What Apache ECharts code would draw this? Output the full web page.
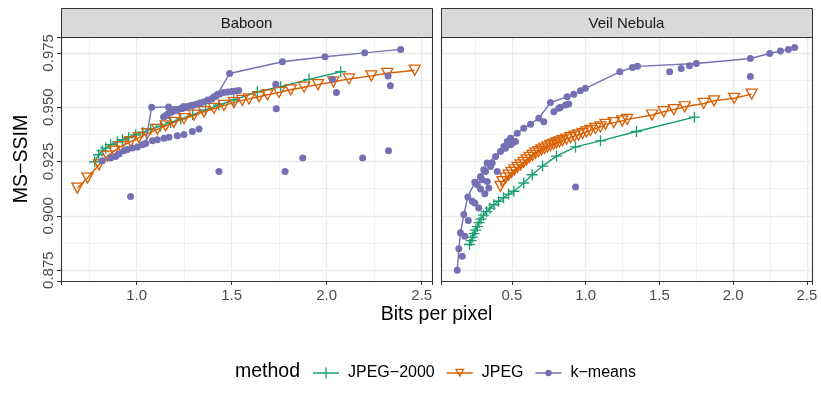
<!DOCTYPE html>
<html>
<head>
<meta charset="utf-8">
<script src="https://cdn.jsdelivr.net/npm/echarts@6/dist/echarts.min.js"></script>
<style>
html,body{margin:0;padding:0;background:#fff;}
#chart{width:821px;height:403px;}
</style>
</head>
<body>
<div id="chart"></div>
<script>
// ---------- data ----------
const panels = ['Baboon', 'Veil Nebula'];
const methods = ['JPEG−2000', 'JPEG', 'k−means'];

// Baboon
const baboonJpeg2000 = [[0.779,0.9249],[0.800,0.9281],[0.819,0.9299],[0.837,0.9312],[0.863,0.9327],[0.898,0.9340],[0.926,0.9350],[0.958,0.9360],[0.995,0.9372],[1.032,0.9385],[1.074,0.9398],[1.126,0.9413],[1.179,0.9430],[1.232,0.9446],[1.295,0.9466],[1.363,0.9488],[1.432,0.9510],[1.511,0.9533],[1.635,0.9571],[1.758,0.9594],[1.907,0.9628],[2.074,0.9663]];
const baboonJpeg = [[0.688,0.9128],[0.741,0.9174],[0.802,0.9235],[0.846,0.9275],[0.881,0.9298],[0.916,0.9318],[0.968,0.9342],[1.012,0.9360],[1.056,0.9378],[1.109,0.9398],[1.153,0.9414],[1.196,0.9430],[1.249,0.9447],[1.302,0.9463],[1.354,0.9479],[1.407,0.9494],[1.459,0.9508],[1.512,0.9521],[1.556,0.9531],[1.591,0.9538],[1.644,0.9548],[1.688,0.9557],[1.749,0.9568],[1.811,0.9580],[1.881,0.9592],[1.954,0.9604],[2.035,0.9617],[2.117,0.9630],[2.235,0.9644],[2.319,0.9656],[2.463,0.9670]];
const baboonKmeansFront = [[0.820,0.9253],[0.863,0.9266],[0.889,0.9273],[0.907,0.9284],[0.933,0.9299],[0.951,0.9305],[0.977,0.9312],[1.004,0.9317],[1.030,0.9327],[1.047,0.9333],[1.079,0.9500],[1.168,0.9501],[1.247,0.9503],[1.289,0.9508],[1.332,0.9519],[1.374,0.9533],[1.405,0.9547],[1.426,0.9560],[1.489,0.9655],[1.767,0.9709],[1.991,0.9732],[2.200,0.9750],[2.389,0.9766]];
const baboonKmeansOther = [[1.142,0.9455],[1.153,0.9462],[1.163,0.9469],[1.174,0.9474],[1.184,0.9478],[1.195,0.9482],[1.205,0.9485],[1.216,0.9489],[1.226,0.9492],[1.237,0.9494],[1.247,0.9496],[1.258,0.9499],[1.268,0.9503],[1.279,0.9506],[1.289,0.9508],[1.300,0.9510],[1.311,0.9512],[1.332,0.9518],[1.353,0.9524],[1.374,0.9531],[1.395,0.9538],[1.416,0.9550],[1.437,0.9561],[1.458,0.9567],[1.479,0.9570],[1.500,0.9572],[1.521,0.9574],[1.537,0.9577],
  [1.083,0.9345],[1.109,0.9350],[1.144,0.9357],[1.170,0.9362],[1.214,0.9369],[1.249,0.9374],[1.293,0.9388],[1.328,0.9399],
  [0.968,0.9089],[1.433,0.9204],[1.781,0.9204],[1.874,0.9266],[2.189,0.9266],[2.325,0.9300],[1.732,0.9605],[1.735,0.9493],[2.051,0.9568],[2.030,0.9628],[2.323,0.9644],[2.335,0.9599]];

// Veil Nebula
const veilJpeg2000 = [[0.213,0.8868],[0.224,0.8886],[0.234,0.8902],[0.244,0.8918],[0.254,0.8934],[0.266,0.8950],[0.278,0.8969],[0.291,0.8985],[0.308,0.9003],[0.329,0.9019],[0.352,0.9035],[0.379,0.9051],[0.410,0.9067],[0.444,0.9083],[0.478,0.9100],[0.514,0.9113],[0.581,0.9151],[0.638,0.9189],[0.708,0.9229],[0.803,0.9275],[0.932,0.9317],[1.101,0.9345],[1.345,0.9388],[1.738,0.9454]];
const veilJpeg = [[0.423,0.9136],[0.437,0.9157],[0.457,0.9173],[0.478,0.9187],[0.498,0.9200],[0.518,0.9212],[0.539,0.9223],[0.559,0.9235],[0.580,0.9246],[0.600,0.9258],[0.620,0.9269],[0.641,0.9278],[0.661,0.9288],[0.681,0.9295],[0.701,0.9304],[0.722,0.9311],[0.742,0.9317],[0.762,0.9324],[0.783,0.9330],[0.803,0.9336],[0.823,0.9340],[0.843,0.9346],[0.871,0.9353],[0.898,0.9360],[0.925,0.9367],[0.952,0.9372],[0.980,0.9379],[1.006,0.9386],[1.033,0.9393],[1.067,0.9402],[1.101,0.9409],[1.135,0.9421],[1.191,0.9429],[1.248,0.9437],[1.282,0.9444],[1.451,0.9464],[1.530,0.9479],[1.598,0.9489],[1.672,0.9502],[1.801,0.9517],[1.871,0.9529],[2.007,0.9541],[2.126,0.9560]];
const veilKmeansFront = [[0.130,0.8750],[0.141,0.8848],[0.152,0.8922],[0.175,0.9006],[0.202,0.9087],[0.249,0.9154],[0.288,0.9181],[0.333,0.9243],[0.390,0.9273],[0.423,0.9296],[0.469,0.9342],[0.491,0.9357],[0.537,0.9380],[0.581,0.9403],[0.627,0.9422],[0.683,0.9449],[0.762,0.9521],[0.875,0.9548],[0.920,0.9559],[0.965,0.9576],[0.999,0.9587],[1.232,0.9663],[1.318,0.9683],[1.352,0.9688],[1.751,0.9701],[2.117,0.9724],[2.248,0.9747],[2.321,0.9759],[2.375,0.9766],[2.417,0.9775]];
const veilKmeansOther = [[0.164,0.8814],[0.182,0.8906],[0.205,0.8979],[0.232,0.9067],[0.249,0.9059],[0.276,0.9036],[0.317,0.9102],[0.288,0.9123],[0.344,0.9128],[0.266,0.9143],[0.333,0.9158],[0.299,0.9166],[0.322,0.9204],[0.401,0.9204],[0.356,0.9227],[0.310,0.9212],[0.367,0.9243],[0.446,0.9319],[0.457,0.9311],[0.491,0.9327],[0.503,0.9334],[0.525,0.9342],[0.717,0.9433],[0.785,0.9479],[0.818,0.9495],[0.830,0.9500],[0.864,0.9510],[0.886,0.9515],[1.570,0.9663],[1.648,0.9678],[1.704,0.9691],[2.117,0.9641],[0.932,0.9133]];

// axis ranges and ticks
const xRanges = [[0.602, 2.554], [0.020, 2.535]];
const yRange = [0.870, 0.9823];
const xStep = 0.5;
const yStep = 0.025;
const xTitle = 'Bits per pixel';
const yTitle = 'MS−SSIM';
const legendTitle = 'method';

// ---------- style ----------
const FONT = '"Liberation Sans", Arial, Helvetica, sans-serif';
const GREEN = '#1B9E77', ORANGE = '#D95F02', PURPLE = '#7570B3';
const PLUS = 'path://M44,0H56V44H100V56H56V100H44V56H0V44H44Z';
const TRI = 'path://M0,0L100,0L50,87Z';
// legend key icons (line + symbol), drawn in a 26 x 13 box
const KEY_LINE = 'M0,5.8H26V7.2H0Z';
const KEY_PLUS = 'path://' + KEY_LINE + 'M12.35,1H13.65V12H12.35Z';
const KEY_TRI = 'path://' + KEY_LINE + 'M8,2.2L18,2.2L13,10.8ZM10.26,3.5L13,8.21L15.74,3.5Z';
const KEY_DOT = 'path://' + KEY_LINE + 'M9.8,6.5A3.2,3.2 0 1,1 16.2,6.5A3.2,3.2 0 1,1 9.8,6.5Z';
const G = [{left: 61, top: 37, width: 371, height: 244}, {left: 441, top: 37, width: 371, height: 244}];

function onStep(v, s) { return Math.abs(v / s - Math.round(v / s)) < 1e-6; }

const chart = echarts.init(document.getElementById('chart'), null, {renderer: 'canvas'});

const grids = G.map(g => ({left: g.left, top: g.top, width: g.width, height: g.height, show: false, containLabel: false}));
const xAxes = G.map((g, i) => ({
  type: 'value', gridIndex: i, min: xRanges[i][0], max: xRanges[i][1],
  minInterval: xStep, maxInterval: xStep,
  axisLine: {show: false},
  axisTick: {show: true, length: 4, lineStyle: {color: '#333', width: 1}},
  axisLabel: {color: '#4D4D4D', fontSize: 15, fontFamily: FONT, margin: 7,
    formatter: v => onStep(v, xStep) ? v.toFixed(1) : ''},
  splitLine: {show: true, showMinLine: false, showMaxLine: false, lineStyle: {color: '#EBEBEB', width: 1.4}},
  minorTick: {show: false, splitNumber: 2},
  minorSplitLine: {show: true, lineStyle: {color: '#EBEBEB', width: 0.7}}
}));
const yAxes = G.map((g, i) => ({
  type: 'value', gridIndex: i, min: yRange[0], max: yRange[1],
  minInterval: yStep, maxInterval: yStep,
  axisLine: {show: false},
  axisTick: {show: i === 0, length: 4, lineStyle: {color: '#333', width: 1}},
  axisLabel: {show: i === 0, color: '#4D4D4D', fontSize: 15, fontFamily: FONT, margin: 5, rotate: 90,
    formatter: v => onStep(v, yStep) ? v.toFixed(3) : ''},
  splitLine: {show: true, showMinLine: false, showMaxLine: false, lineStyle: {color: '#EBEBEB', width: 1.4}},
  minorTick: {show: false, splitNumber: 2},
  minorSplitLine: {show: true, lineStyle: {color: '#EBEBEB', width: 0.7}}
}));

function j2k(data, i) {
  return {name: methods[0], type: 'line', xAxisIndex: i, yAxisIndex: i, data: data,
    symbol: PLUS, symbolSize: 11, itemStyle: {color: GREEN},
    lineStyle: {color: GREEN, width: 1.4}, z: 2, silent: true};
}
function jpg(data, i) {
  return {name: methods[1], type: 'line', xAxisIndex: i, yAxisIndex: i, data: data,
    symbol: TRI, symbolSize: [11, 10],
    itemStyle: {color: 'rgba(255,255,255,0)', borderColor: ORANGE, borderWidth: 1.3},
    lineStyle: {color: ORANGE, width: 1.4}, z: 3, silent: true};
}
function kmLine(data, i) {
  return {name: methods[2], type: 'line', xAxisIndex: i, yAxisIndex: i, data: data,
    symbol: 'circle', symbolSize: 7, itemStyle: {color: PURPLE},
    lineStyle: {color: PURPLE, width: 1.4}, z: 4, silent: true};
}
function kmPts(data, i) {
  return {name: methods[2], type: 'scatter', xAxisIndex: i, yAxisIndex: i, data: data,
    symbol: 'circle', symbolSize: 7, itemStyle: {color: PURPLE, opacity: 1}, z: 4, silent: true};
}

const series = [
  j2k(baboonJpeg2000, 0), jpg(baboonJpeg, 0), kmLine(baboonKmeansFront, 0), kmPts(baboonKmeansOther, 0),
  j2k(veilJpeg2000, 1), jpg(veilJpeg, 1), kmLine(veilKmeansFront, 1), kmPts(veilKmeansOther, 1)
];

const graphics = [];
G.forEach((g, i) => {
  graphics.push({type: 'rect', shape: {x: g.left + 0.5, y: 8.5, width: g.width, height: g.top - 8}, style: {fill: '#D9D9D9', stroke: '#333', lineWidth: 1}, z: 10});
  graphics.push({type: 'text', x: g.left + g.width / 2, y: 8 + (g.top - 8) / 2 + 1, style: {text: panels[i], fill: '#1A1A1A', font: '15px ' + FONT, align: 'center', verticalAlign: 'middle'}, z: 11});
  graphics.push({type: 'rect', shape: {x: g.left + 0.5, y: g.top + 0.5, width: g.width, height: g.height}, style: {fill: 'none', stroke: '#333', lineWidth: 1.1}, z: 50});
});
graphics.push({type: 'text', x: (G[0].left + G[1].left + G[1].width) / 2, y: 315, style: {text: xTitle, fill: '#000', font: '19.5px ' + FONT, align: 'center', verticalAlign: 'middle'}, z: 11});
graphics.push({type: 'text', x: 22, y: G[0].top + G[0].height / 2, rotation: Math.PI / 2, style: {text: yTitle, fill: '#000', font: '19.5px ' + FONT, align: 'center', verticalAlign: 'middle'}, z: 11});
graphics.push({type: 'text', x: 235, y: 372, style: {text: legendTitle, fill: '#000', font: '19.5px ' + FONT, align: 'left', verticalAlign: 'middle'}, z: 11});

chart.setOption({
  animation: false,
  backgroundColor: '#fff',
  grid: grids,
  xAxis: xAxes,
  yAxis: yAxes,
  legend: {
    data: [
      {name: methods[0], icon: KEY_PLUS, itemStyle: {color: GREEN, borderWidth: 0}},
      {name: methods[1], icon: KEY_TRI, itemStyle: {color: ORANGE, borderWidth: 0}},
      {name: methods[2], icon: KEY_DOT, itemStyle: {color: PURPLE, borderWidth: 0}}
    ],
    left: 313, top: 365, orient: 'horizontal', padding: 0,
    itemWidth: 26, itemHeight: 13, itemGap: 12,
    textStyle: {fontSize: 16, fontFamily: FONT, color: '#000', padding: [0, 0, 0, 4]},
    selectedMode: false
  },
  series: series,
  graphic: graphics
});
</script>
</body>
</html>
